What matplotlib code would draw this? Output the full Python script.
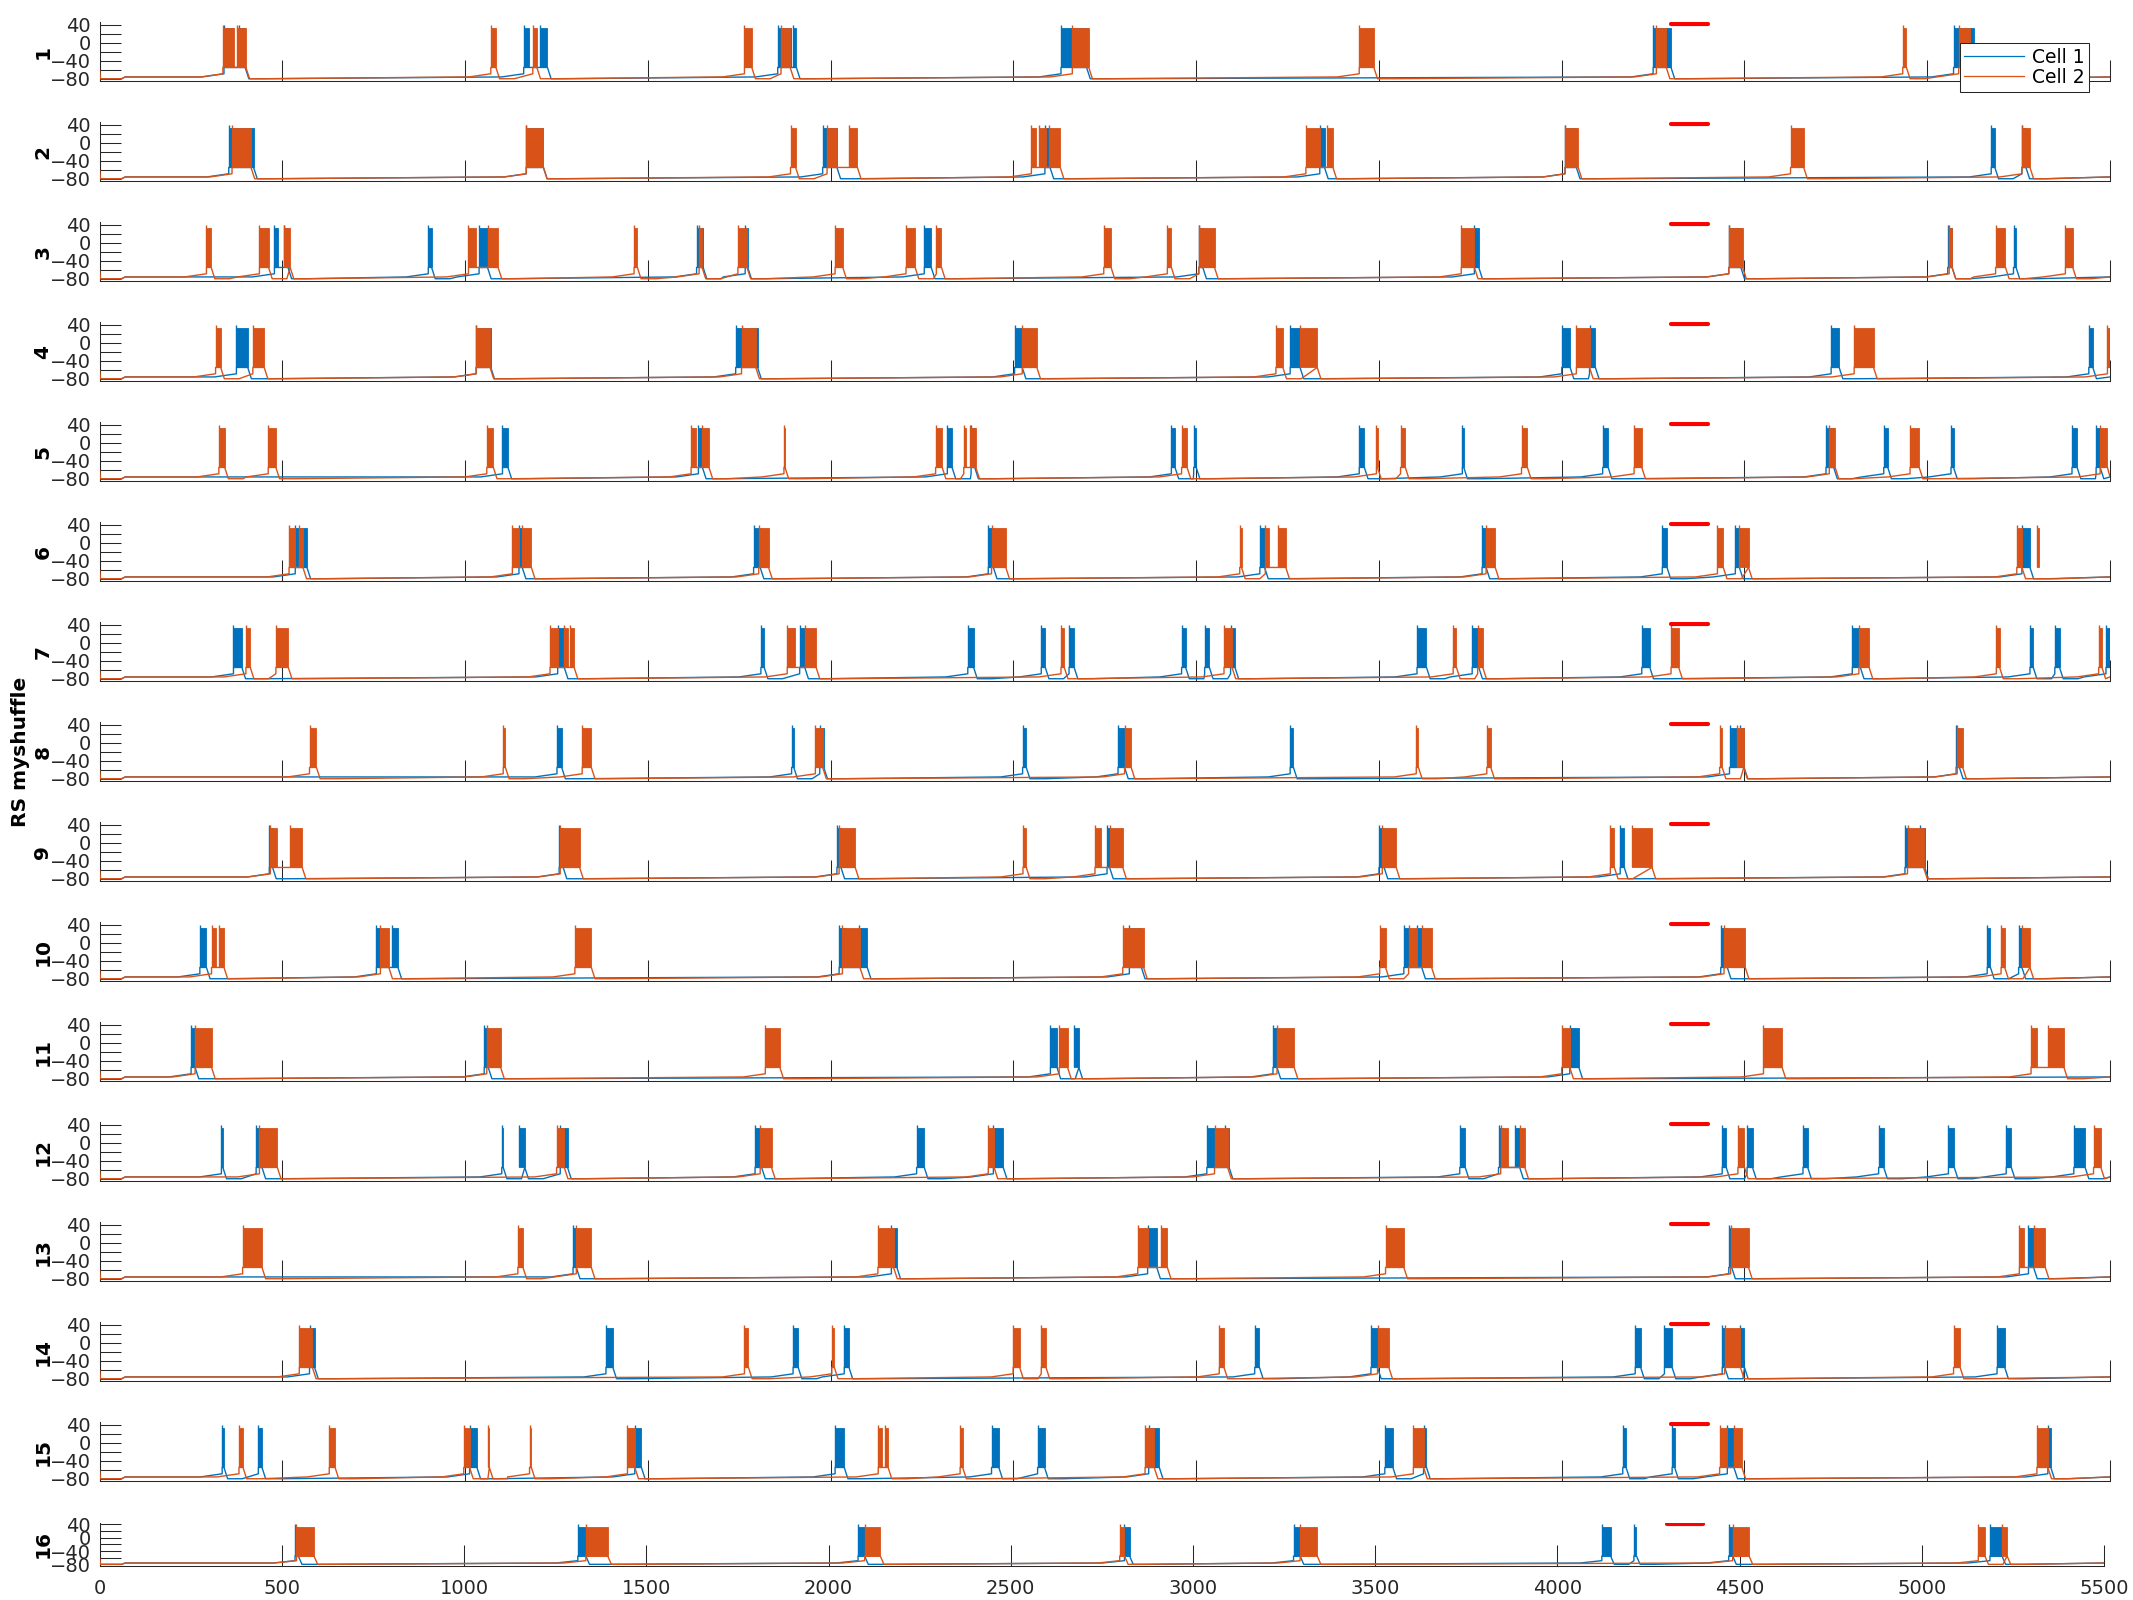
import matplotlib
matplotlib.use('Agg')
import matplotlib.pyplot as plt
from matplotlib.lines import Line2D

# 기본 스타일 (MATLAB 느낌)
plt.rcParams.update({
    'font.family': ['DejaVu Sans'],
    'axes.edgecolor': '#262626',
    'axes.linewidth': 0.75,
    'xtick.color': '#262626',
    'ytick.color': '#262626',
    'xtick.labelsize': 14,
    'ytick.labelsize': 14,
    'xtick.direction': 'in',
    'ytick.direction': 'in',
})

C1 = '#0072BD'   # Cell 1
C2 = '#D95319'   # Cell 2

# 버스트 구간 (ms): (시작, 끝) - 그림에서 읽은 값
r1_c1 = [(340, 365), (380, 398), (1160, 1174), (1205, 1225), (1855, 1890), (1897, 1906),
         (2630, 2700), (4250, 4299), (5072, 5128)]
r1_c2 = [(337, 367), (377, 400), (1070, 1084), (1185, 1196), (1764, 1784), (1864, 1889),
         (2661, 2706), (3446, 3486), (4259, 4286), (4933, 4943), (5086, 5118)]
r2_c1 = [(353, 421), (1167, 1214), (1978, 2017), (2586, 2600), (3338, 3351), (4009, 4040),
         (5175, 5185), (5259, 5270)]
r2_c2 = [(362, 414), (1167, 1214), (1890, 1904), (1990, 2017), (2050, 2073), (2549, 2562),
         (2569, 2589), (2598, 2628), (3300, 3338), (3358, 3374), (4009, 4045), (4626, 4662),
         (5259, 5281)]
r3_c1 = [(478, 489), (503, 515), (899, 908), (1038, 1061), (1633, 1651), (1766, 1773),
         (2256, 2275), (3007, 3018), (3761, 3773), (4457, 4490), (5056, 5068), (5236, 5243)]
r3_c2 = [(292, 305), (437, 462), (503, 521), (1009, 1030), (1061, 1090), (1462, 1471),
         (1640, 1648), (1746, 1771), (2012, 2033), (2206, 2231), (2289, 2303), (2747, 2767),
         (2921, 2932), (3007, 3050), (3725, 3761), (4457, 4495), (5060, 5068), (5187, 5214),
         (5378, 5398)]
r4_c1 = [(374, 405), (1030, 1070), (1740, 1800), (2503, 2524), (3257, 3284), (4000, 4023),
         (4076, 4092), (4737, 4759), (5442, 5453)]
r4_c2 = [(317, 331), (419, 450), (1030, 1068), (1756, 1795), (2524, 2564), (3218, 3237),
         (3284, 3331), (4040, 4076), (4800, 4853), (5493, 5500)]
r5_c1 = [(1102, 1117), (1638, 1649), (2319, 2332), (2384, 2394), (2932, 2942), (2993, 3000),
         (3446, 3460), (3728, 3732), (4112, 4127), (4723, 4744), (4881, 4892), (5065, 5072),
         (5396, 5410), (5462, 5473)]
r5_c2 = [(326, 342), (461, 482), (1059, 1077), (1618, 1631), (1649, 1667), (1872, 1875),
         (2287, 2305), (2364, 2371), (2382, 2397), (2960, 2975), (3493, 3496), (3559, 3572),
         (3890, 3906), (4198, 4219), (4732, 4748), (4953, 4978), (5473, 5493)]
r6_c1 = [(535, 567), (1147, 1156), (1789, 1807), (2431, 2445), (3174, 3187), (3782, 3793),
         (4275, 4288), (4475, 4486), (5259, 5281)]
r6_c2 = [(518, 535), (546, 556), (1129, 1147), (1156, 1181), (1803, 1830), (2440, 2479),
         (3119, 3124), (3189, 3198), (3223, 3245), (3793, 3818), (4426, 4442), (4486, 4511),
         (5245, 5259), (5299, 5306)]
r7_c1 = [(366, 389), (1253, 1271), (1809, 1818), (1915, 1929), (2375, 2391), (2576, 2587),
         (2652, 2666), (2960, 2971), (3023, 3036), (3094, 3106), (3604, 3630), (3755, 3773),
         (4219, 4241), (4795, 4817), (5281, 5290), (5349, 5362), (5489, 5500)]
r7_c2 = [(400, 412), (482, 516), (1232, 1253), (1271, 1282), (1286, 1298), (1881, 1902),
         (1929, 1960), (2630, 2639), (3076, 3098), (3703, 3712), (3770, 3784), (4299, 4320),
         (4813, 4841), (5189, 5198), (5469, 5478)]
r8_c1 = [(1251, 1264), (1893, 1899), (1970, 1981), (2525, 2535), (2786, 2804), (3257, 3266),
         (4459, 4480), (4489, 4499), (5079, 5088)]
r8_c2 = [(574, 593), (1104, 1110), (1320, 1345), (1958, 1978), (2804, 2822), (3602, 3608),
         (3795, 3806), (4432, 4439), (4480, 4498), (5082, 5097)]
r9_c1 = [(464, 473), (1257, 1268), (2017, 2028), (2756, 2763), (3500, 3514), (4160, 4171),
         (4939, 4950), (4980, 4993)]
r9_c2 = [(467, 485), (521, 554), (1260, 1313), (2023, 2067), (2526, 2535), (2723, 2739),
         (2763, 2799), (3509, 3547), (4133, 4144), (4193, 4247), (4946, 4990)]
r10_c1 = [(274, 292), (757, 768), (800, 816), (2023, 2041), (2077, 2100), (2817, 2850),
          (3568, 3581), (3603, 3617), (4435, 4453), (5164, 5173), (5250, 5259)]
r10_c2 = [(306, 317), (326, 340), (768, 791), (1300, 1345), (2032, 2080), (2799, 2856),
          (3502, 3518), (3581, 3603), (3617, 3644), (4444, 4502), (5202, 5212), (5259, 5281)]
r11_c1 = [(250, 261), (1052, 1063), (2601, 2619), (2666, 2679), (3210, 3221), (4022, 4047)]
r11_c2 = [(261, 306), (1059, 1097), (1821, 1861), (2625, 2648), (3221, 3268), (4000, 4022),
          (4552, 4603), (5284, 5299), (5331, 5374)]
r12_c1 = [(333, 337), (428, 444), (1100, 1104), (1147, 1163), (1260, 1280), (1793, 1811),
          (2235, 2256), (2445, 2472), (3029, 3050), (3080, 3090), (3721, 3736), (3827, 3840),
          (3871, 3885), (4439, 4450), (4507, 4522), (4660, 4673), (4867, 4881), (5058, 5074),
          (5216, 5230), (5401, 5432)]
r12_c2 = [(437, 486), (1250, 1271), (1807, 1838), (2431, 2447), (3050, 3086), (3833, 3853),
          (3885, 3899), (4482, 4500), (5455, 5475)]
r13_c1 = [(1295, 1304), (2166, 2181), (2867, 2892), (4457, 4465), (5277, 5291)]
r13_c2 = [(391, 444), (1144, 1158), (1304, 1345), (2129, 2172), (2840, 2867), (2903, 2921),
          (3518, 3568), (4462, 4511), (5252, 5266), (5291, 5323)]
r14_c1 = [(574, 588), (1385, 1404), (1897, 1911), (2037, 2050), (3160, 3173), (3478, 3496),
          (4201, 4216), (4281, 4302), (4439, 4446), (4489, 4500), (5191, 5212)]
r14_c2 = [(546, 582), (1764, 1775), (2003, 2010), (2499, 2517), (2576, 2589), (3063, 3076),
          (3496, 3527), (4446, 4489), (5072, 5090)]
r15_c1 = [(335, 340), (434, 444), (1012, 1032), (1464, 1482), (2012, 2037), (2440, 2460),
          (2566, 2585), (2870, 2899), (3516, 3538), (3622, 3630), (4167, 4176), (4302, 4309),
          (4453, 4471), (5330, 5338)]
r15_c2 = [(381, 392), (628, 644), (996, 1012), (1061, 1066), (1176, 1181), (1444, 1464),
          (2130, 2139), (2148, 2157), (2354, 2361), (2860, 2885), (3594, 3622), (4432, 4453),
          (4471, 4493), (5300, 5330)]
r16_c1 = [(536, 545), (1312, 1334), (2081, 2099), (2812, 2826), (3276, 3294), (4122, 4146),
          (4210, 4217), (4470, 4481), (5187, 5220)]
r16_c2 = [(540, 588), (1334, 1394), (2099, 2142), (2799, 2812), (3294, 3341), (4481, 4526),
          (5155, 5173), (5220, 5234)]

rows = [(r1_c1, r1_c2), (r2_c1, r2_c2), (r3_c1, r3_c2), (r4_c1, r4_c2),
        (r5_c1, r5_c2), (r6_c1, r6_c2), (r7_c1, r7_c2), (r8_c1, r8_c2),
        (r9_c1, r9_c2), (r10_c1, r10_c2), (r11_c1, r11_c2), (r12_c1, r12_c2),
        (r13_c1, r13_c2), (r14_c1, r14_c2), (r15_c1, r15_c2), (r16_c1, r16_c2)]

# 자극 구간 (빨간 막대)
STIM_ON, STIM_OFF, STIM_Y = 4300, 4400, 41

# 전압 레벨 (mV)
V_START, V_AHP, V_REST, V_PRE, V_PLAT, V_PEAK, V_TOP = -62, -80, -76, -69, -55, 33, 40
T_END = 5500


def trace(bursts):
    # 버스트 목록으로 막전위 꺾은선 만들기
    ts = [0, 2, 60, 70]
    vs = [V_START, V_AHP, V_AHP, V_REST]
    eps = []
    for s, e in sorted(bursts):
        if eps and s - eps[-1][1] < 40:
            eps[-1][1] = max(eps[-1][1], e)
        else:
            eps.append([s, e])
    for s, e in eps:
        for t, v in [(s - 60, V_REST), (s, V_PRE), (s, V_PLAT), (e, V_PLAT),
                     (e + 10, V_AHP), (e + 50, V_AHP)]:
            if t >= ts[-1] and t <= T_END:
                ts.append(t)
                vs.append(v)
    if ts[-1] < T_END:
        ts.append(T_END)
        vs.append(V_REST)
    return ts, vs


def draw_cell(ax, bursts, color, z):
    ts, vs = trace(bursts)
    ax.plot(ts, vs, color=color, lw=1.0, zorder=z)
    starts = [s for s, e in bursts]
    widths = [e - s for s, e in bursts]
    ax.bar(starts, V_PEAK - V_PLAT, width=widths, bottom=V_PLAT, align='edge',
           color=color, edgecolor=color, linewidth=0.6, zorder=z)
    ax.vlines(starts, V_PLAT, V_TOP, color=color, lw=1.0, zorder=z)


W, H = 2133, 1600
fig = plt.figure(figsize=(W / 100, H / 100), dpi=100)

axes = []
for i, (b1, b2) in enumerate(rows):
    if i < 15:
        top, bot, left, right = 22.3 + 100 * i, 81 + 100 * i, 99.7, 2110
    else:
        top, bot, left, right = 1522.7, 1566, 99.7, 2104
    ax = fig.add_axes([left / W, 1 - bot / H, (right - left) / W, (bot - top) / H])
    axes.append(ax)

    draw_cell(ax, b1, C1, 2)
    draw_cell(ax, b2, C2, 3)
    ax.plot([STIM_ON, STIM_OFF], [STIM_Y, STIM_Y], color='#ff0000', lw=3,
            solid_capstyle='round', zorder=4)

    ax.set_xlim(0, 5500)
    ax.set_ylim(-85, 45)
    ax.set_yticks([-80, -60, -40, -20, 0, 20, 40])
    ax.set_yticklabels(['\u221280', '', '\u221240', '', '0', '', '40'])
    ax.set_xticks(range(0, 5501, 500))
    ax.tick_params(axis='y', length=15, width=0.75, pad=6.3)
    ax.tick_params(axis='x', length=15, width=0.75, pad=9.5)
    if i < 15:
        ax.tick_params(axis='x', labelbottom=False)
    for sp in ['top', 'right']:
        ax.spines[sp].set_visible(False)

    label = 'RS myshuffle\n' + str(i + 1) if i == 7 else str(i + 1)
    ax.set_ylabel(label, fontsize=14.5, fontweight='bold', color='#000000')
    ax.yaxis.set_label_coords(-0.0235, 0.5)

# 범례
handles = [Line2D([], [], color=C1, lw=0.9, label='Cell 1'),
           Line2D([], [], color=C2, lw=0.9, label='Cell 2')]
leg = axes[0].legend(handles=handles, loc='upper right',
                     bbox_to_anchor=(2089 / W, 1 - 43.3 / H), bbox_transform=fig.transFigure,
                     fontsize=13.5, frameon=True, fancybox=False, framealpha=1,
                     edgecolor='#262626', borderpad=0.25, labelspacing=0.05,
                     handlelength=3.2, handletextpad=0.4, borderaxespad=0)
leg.get_frame().set_linewidth(0.75)
leg.set_zorder(10)

fig.savefig('out.png', dpi=100, facecolor='white')
